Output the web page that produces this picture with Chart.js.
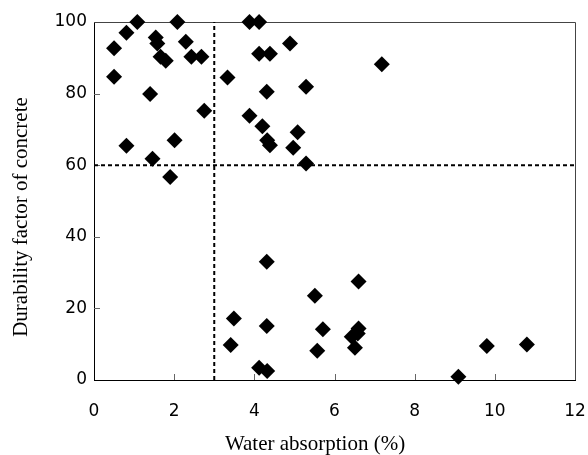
<!DOCTYPE html>
<html lang="en">
<head>
    <meta charset="UTF-8">
    <title>Durability factor vs water absorption</title>
    <script src="https://cdn.jsdelivr.net/npm/chart.js"></script>
    <style>
        body { margin: 0; background: #fff; }
    </style>
</head>
<body>
    <canvas id="scatterChart" width="588" height="455"></canvas>

    <script>
        // Water absorption (%) per specimen
        const absorption = [
            0.50, 0.81, 1.08, 2.08, 1.54, 1.58, 1.66, 1.79, 2.29, 2.43, 2.68,
            0.50, 1.40, 2.75, 0.81, 2.01, 1.46, 1.90,
            3.88, 4.12, 4.89, 4.12, 4.39, 3.33, 4.31, 5.29, 7.18,
            3.88, 4.20, 4.32, 4.39, 5.08, 4.97, 5.29,
            4.31, 3.49, 3.41, 4.31, 4.12, 4.32, 5.51, 5.71, 5.57,
            6.60, 6.60, 6.58, 6.43, 6.51, 9.80, 10.80, 9.09
        ];
        // Durability factor of concrete, same order
        const durability = [
            92.7, 97.0, 100, 100, 95.7, 94.0, 90.3, 89.2, 94.5, 90.3, 90.3,
            84.7, 79.9, 75.2, 65.4, 67.0, 61.8, 56.7,
            100, 100, 94.0, 91.1, 91.1, 84.5, 80.5, 81.9, 88.2,
            73.8, 70.9, 67.0, 65.6, 69.2, 64.9, 60.5,
            33.0, 17.2, 9.8, 15.1, 3.4, 2.5, 23.5, 14.2, 8.2,
            27.5, 14.4, 13.0, 12.1, 9.0, 9.5, 9.9, 0.9
        ];

        // Dashed threshold lines
        const absLimit = 3;
        const durLimit = 60;

        // Axis ticks
        const xTicks = [0, 2, 4, 6, 8, 10, 12];
        const yTicks = [0, 20, 40, 60, 80, 100];

        const xTitle = 'Water absorption (%)';
        const yTitle = 'Durability factor of concrete';

        const points = absorption.map((x, i) => ({ x: x, y: durability[i] }));
        const xMin = xTicks[0], xMax = xTicks[xTicks.length - 1];
        const yMin = yTicks[0], yMax = yTicks[yTicks.length - 1];

        // box round the plot, inward tick marks and the axis titles
        const framePlugin = {
            id: 'frame',
            beforeDatasetsDraw(chart) {
                const ctx = chart.ctx;
                const a = chart.chartArea;
                const xs = chart.scales.x, ys = chart.scales.y;
                ctx.save();
                ctx.strokeStyle = '#444';
                ctx.lineWidth = 1;
                ctx.beginPath();
                ctx.moveTo(a.left, a.top + 0.5);
                ctx.lineTo(a.right + 0.5, a.top + 0.5);
                ctx.lineTo(a.right + 0.5, a.bottom);
                ctx.stroke();

                ctx.strokeStyle = '#666';
                ctx.beginPath();
                xTicks.slice(1, -1).forEach(v => {
                    const px = Math.round(xs.getPixelForValue(v)) + 0.5;
                    ctx.moveTo(px, a.bottom);
                    ctx.lineTo(px, a.bottom - 6);
                });
                yTicks.slice(1, -1).forEach(v => {
                    const py = Math.round(ys.getPixelForValue(v)) + 0.5;
                    ctx.moveTo(a.left, py);
                    ctx.lineTo(a.left + 6, py);
                });
                ctx.stroke();
                ctx.restore();
            },
            afterDraw(chart) {
                const ctx = chart.ctx;
                ctx.save();
                ctx.fillStyle = '#000';
                ctx.font = '21px "Liberation Serif"';
                ctx.textAlign = 'center';
                ctx.textBaseline = 'alphabetic';
                ctx.fillText(xTitle, 315, 450);
                ctx.translate(27, 217);
                ctx.rotate(-Math.PI / 2);
                ctx.fillText(yTitle, 0, 0);
                ctx.restore();
            }
        };

        const ctx = document.getElementById('scatterChart').getContext('2d');
        const scatterChart = new Chart(ctx, {
            type: 'scatter',
            data: {
                datasets: [
                    {
                        data: points,
                        pointStyle: 'rectRot',
                        pointRadius: 8,
                        pointBorderWidth: 0,
                        backgroundColor: '#000',
                        borderColor: '#000',
                        clip: false
                    },
                    {
                        data: [{ x: absLimit, y: yMin }, { x: absLimit, y: yMax }],
                        showLine: true,
                        pointRadius: 0,
                        borderColor: '#000',
                        borderWidth: 2,
                        borderDash: [4, 3]
                    },
                    {
                        data: [{ x: xMin, y: durLimit }, { x: xMax, y: durLimit }],
                        showLine: true,
                        pointRadius: 0,
                        borderColor: '#000',
                        borderWidth: 2,
                        borderDash: [4, 3]
                    }
                ]
            },
            options: {
                responsive: false,
                animation: false,
                layout: { padding: { top: 22, right: 13, left: 0, bottom: 0 } },
                plugins: {
                    legend: { display: false },
                    tooltip: { enabled: false }
                },
                scales: {
                    x: {
                        type: 'linear',
                        min: xMin,
                        max: xMax,
                        afterBuildTicks: s => { s.ticks = xTicks.map(v => ({ value: v })); },
                        afterFit: s => { s.height = 75; },
                        // invisible tick marks push the labels down without widening the right padding
                        grid: { display: true, drawOnChartArea: false, drawTicks: true, tickLength: 21, color: 'rgba(0,0,0,0)' },
                        border: { display: true, color: '#000', width: 1 },
                        ticks: {
                            padding: 0,
                            color: '#000',
                            font: { family: '"DejaVu Sans"', size: 17 }
                        }
                    },
                    y: {
                        type: 'linear',
                        min: yMin,
                        max: yMax,
                        afterBuildTicks: s => { s.ticks = yTicks.map(v => ({ value: v })); },
                        afterFit: s => { s.width = 94; },
                        grid: { display: false, drawTicks: false },
                        border: { display: true, color: '#000', width: 1 },
                        ticks: {
                            padding: 7,
                            color: '#000',
                            font: { family: '"DejaVu Sans"', size: 17 }
                        }
                    }
                }
            },
            plugins: [framePlugin]
        });
    </script>
</body>
</html>
